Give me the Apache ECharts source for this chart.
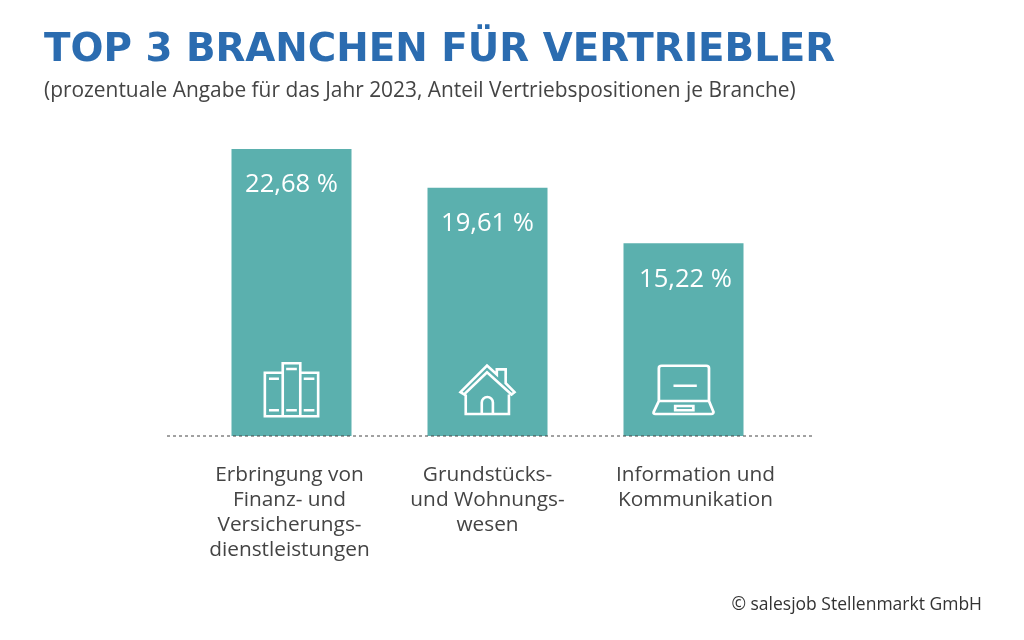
<!DOCTYPE html>
<html>
<head>
<meta charset="utf-8">
<style>
  html, body { margin: 0; padding: 0; background: #fff; }
  #chart { width: 1024px; height: 640px; }
</style>
<script src="https://cdn.jsdelivr.net/npm/echarts@6/dist/echarts.min.js"></script>
</head>
<body>
<div id="chart"></div>
<script>
var categories = [
  "Erbringung von\nFinanz- und\nVersicherungs-\ndienstleistungen",
  "Grundstücks-\nund Wohnungs-\nwesen",
  "Information und\nKommunikation"
];
var shares = [22.68, 19.61, 15.22];

// outline icons, one per bar
var booksIcon = "path://M135,97 L187,97 L187,226 L135,226 Z M187,69 L238,69 L238,226 L187,226 Z M238,97 L290,97 L290,226 L238,226 Z" +
  " M147,115 L176,115 M147,208 L176,208 M197,86 L228,86 M197,208 L228,208 M248,115 L279,115 M248,208 L279,208";
var houseIcon = "path://M738,165 L738,226 L870,226 L870,165 M787,226 L787,190 A17,17 0 0 1 821,190 L821,226 Z" +
  " M722,158 L803,75 L833,103 L833,87 L860,87 L860,130 L887,158 L878,165 L803,96 L733,165 Z";
var laptopIcon = "path://M178,185 L178,80 Q178,72 186,72 L314,72 Q322,72 322,80 L322,185" +
  " M178,185 L322,185 L335,220 Q335,226 329,226 L168,226 Q161,226 163,220 Z" +
  " M225,201 L277,201 L277,214 L225,214 Z M220,136 L287,136";
var icons = [booksIcon, houseIcon, laptopIcon];
var iconSizes = [[54, 53], [54, 53], [60, 54]];

var chart = echarts.init(document.getElementById("chart"), null, { renderer: "canvas" });

var option = {
  animation: false,
  backgroundColor: "#fff",
  title: [
    {
      text: "TOP 3 BRANCHEN FÜR VERTRIEBLER",
      left: 39,
      top: 26,
      textStyle: { fontFamily: "DejaVu Sans", fontWeight: "bold", fontSize: 38.8, color: "#2B6CB0" }
    },
    {
      text: "(prozentuale Angabe für das Jahr 2023, Anteil Vertriebspositionen je Branche)",
      left: 39,
      top: 76,
      textStyle: { fontFamily: "Open Sans", fontWeight: 400, fontSize: 20.9, color: "#444" }
    },
    {
      text: "© salesjob Stellenmarkt GmbH",
      right: 37,
      top: 591,
      textStyle: { fontFamily: "Open Sans", fontWeight: 400, fontSize: 17.5, color: "#333" }
    }
  ],
  grid: { left: 193.5, width: 588, top: 136, height: 300 },
  xAxis: {
    type: "category",
    data: [
      // these two labels sit a little off their bars in the original
      { value: categories[0], textStyle: { padding: [0, 4, 0, 0] } },
      categories[1],
      { value: categories[2], textStyle: { padding: [0, 0, 0, 24] } }
    ],
    axisLine: { show: false },
    axisTick: { show: false },
    axisLabel: {
      margin: 27,
      interval: 0,
      fontFamily: "Open Sans",
      fontSize: 20.8,
      lineHeight: 25,
      color: "#444"
    }
  },
  yAxis: { type: "value", min: 0, max: 23.7, show: false },
  series: [
    {
      type: "bar",
      data: [shares[0], shares[1], { value: shares[2], label: { offset: [2, 0] } }],
      barWidth: 120,
      itemStyle: { color: "#5BB0AE" },
      label: {
        show: true,
        position: "insideTop",
        distance: 23,
        fontFamily: "Open Sans",
        fontSize: 25.6,
        color: "#fff",
        formatter: function (p) { return p.value.toFixed(2).replace(".", ",") + " %"; }
      }
    },
    {
      type: "scatter",
      data: categories.map(function (c, i) {
        return { value: [i, 3.65], symbol: icons[i], symbolSize: iconSizes[i] };
      }),
      symbolKeepAspect: true,
      z: 5,
      silent: true,
      itemStyle: { color: "none", borderColor: "#fff", borderWidth: 2.6, opacity: 1 }
    }
  ],
  graphic: [
    {
      type: "line",
      shape: { x1: 167, y1: 436, x2: 812, y2: 436 },
      z: 10,
      style: { stroke: "#444", lineWidth: 1, lineDash: [3, 3] }
    }
  ]
};

chart.setOption(option);
</script>
</body>
</html>
